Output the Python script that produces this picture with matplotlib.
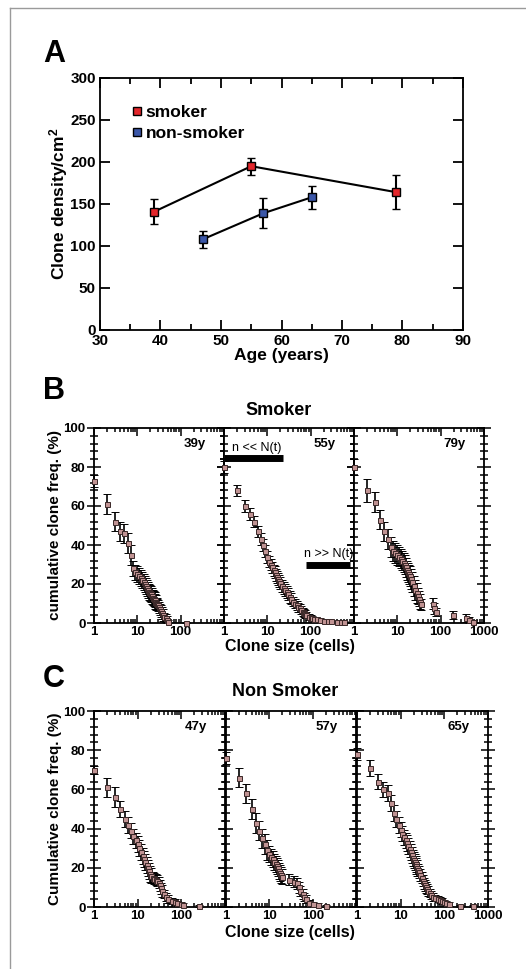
import matplotlib
matplotlib.use('Agg')
import matplotlib.pyplot as plt
from matplotlib.lines import Line2D
from matplotlib.ticker import MultipleLocator, LogLocator, NullFormatter, FixedLocator

plt.rcParams['font.family'] = ['Liberation Sans', 'DejaVu Sans']
plt.rcParams['font.weight'] = 'bold'
plt.rcParams['mathtext.fontset'] = 'custom'
plt.rcParams['mathtext.rm'] = 'Liberation Sans:bold'
plt.rcParams['mathtext.it'] = 'Liberation Sans:bold'
plt.rcParams['mathtext.bf'] = 'Liberation Sans:bold'

# ---------------- Panel A data ----------------
smoker_age = [39, 55, 79]
smoker_density = [141, 195, 164]
smoker_err = [15, 10, 20]
nonsmoker_age = [47, 57, 65]
nonsmoker_density = [108, 139, 158]
nonsmoker_err = [10, 18, 14]

# ---------------- Panel B (Smoker) ----------------
b_labels = ['39y', '55y', '79y']
b1_size = [1,2,3,4,5,6,7,8,9,10,11,12,13,14,15,16,17,18,19,20,21,22,23,24,25,26,27,28,29,30,32,34,36,38,40,42,45,48,52,130]
b1_freq = [73,61,52,47,46,41,35,28,26,25,24,23,22,21,20,19,18,17,16,15.5,15,14,13,12.5,12,11,10.5,10,9.5,9,8,7,6,5,4,3,2.5,1.5,0.5,0]
b1_err = [3,5,5,5,5,5,5,4,4,4,4,4,4,4,4,4,4,4,4,4,4,4,4,4,4,4,4,3,3,3,3,3,3,3,3,2,2,2,1,0.5]

b2_size = [1,2,3,4,5,6,7,8,9,10,11,12,13,14,15,16,17,18,19,20,22,24,26,28,30,33,36,40,44,48,52,56,60,65,70,75,80,90,100,110,120,140,160,200,250,300,400,500,600]
b2_freq = [80,68,60,56,52,47,43,40,37,34,31.5,30,28.5,27,26,24.5,23.5,22.5,21.5,20.5,19,18,17,16,15,13.5,12.5,11,10,9,8,7.5,6.5,5.5,5,4.5,4,3.2,2.8,2.4,2,1.8,1.5,1.2,1,0.8,0.5,0.4,0.3]
b2_err = [3,3,3,3,3,3,3,3,3,3,3,3,3,3,3,3,3,3,3,3,3,3,3,3,3,3,3,2.5,2.5,2.5,2.5,2,2,2,2,2,1.5,1.5,1.5,1,1,1,1,1,0.8,0.8,0.5,0.5,0.5]

b3_size = [1,2,3,4,5,6,7,8,9,10,11,12,13,14,15,16,17,18,19,20,21,22,24,26,28,30,32,34,36,68,72,76,190,380,440,560]
b3_freq = [80,68,62,53,47,43,39,37,36,35,34,33,32,31,30,28.5,27,26,25,24,22.5,21,19,17,15.5,14,12.5,11,9.5,10,7.5,5.5,4,2.5,1.5,0.5]
b3_err = [4,6,5,5,5,5,5,5,5,5,5,5,5,5,5,5,5,5,5,5,5,5,5,5,5,4,4,4,3,3,3,2,2,2,1.5,1]

# ---------------- Panel C (Non Smoker) ----------------
c_labels = ['47y', '57y', '65y']
c1_size = [1,2,3,4,5,6,7,8,9,10,11,12,13,14,15,16,17,18,19,20,22,24,26,28,30,32,34,36,40,45,50,60,70,80,100,110,260]
c1_freq = [70,61,56,50,45,42,39,36,34,32,30,28,26,24.5,23,21.5,20,18.5,17,16,15,14.5,14,13.5,12.5,11,9.5,8,6.5,5,4,3,2.5,2,1.5,1,0.5]
c1_err = [2,5,5,4,4,4,4,4,4,4,4,4,4,4,4,4,4,4,4,4,3,3,3,3,3,3,3,3,2,2,2,1.5,1.5,1,1,1,0.5]

c2_size = [1,2,3,4,5,6,7,8,9,10,11,12,13,14,15,16,17,18,19,20,28,38,44,48,52,58,64,70,83,100,130,200]
c2_freq = [76,66,58,50,43,39,35,32,29,27,25.5,24.5,23,22,21,20,18.5,17.5,16.5,15.5,14,13,12,10,8,6.5,5,4,2,1.5,1,0.3]
c2_err = [3,5,5,5,5,5,5,5,5,4,4,4,4,4,4,4,4,4,4,4,3,3,3,3,2.5,2.5,2,2,1.5,1,1,0.5]

c3_size = [1,2,3,4,5,6,7,8,9,10,11,12,13,14,15,16,17,18,19,20,21,22,23,24,25,26,28,30,32,34,36,38,40,43,46,50,55,60,70,80,90,100,110,125,230,460]
c3_freq = [78,71,64,60,58,53,48,45,42,39.5,37.5,35.5,34,32.5,31,29.5,28,26.5,25,24,23,22,21,20,19,18,16.5,15,13.5,12,11,10,9,8,7,6,5,4.5,4,3.5,3,2.5,2,1.5,0.5,0.3]
c3_err = [3,4,4,4,4,4,4,4,4,4,4,4,4,4,4,4,4,4,4,4,4,4,4,4,3,3,3,3,3,3,3,3,2.5,2.5,2,2,2,1.5,1.5,1.5,1.5,1,1,1,0.5,0.5]

W, H = 526, 969
fig = plt.figure(figsize=(W / 100, H / 100), dpi=100)

def rect(left, top, width, height):
    return [left / W, 1 - (top + height) / H, width / W, height / H]

# page frame lines
fig.add_artist(Line2D([10 / W, 10 / W], [0, 1 - 8 / H], color='#9a9a9a', lw=1.0))
fig.add_artist(Line2D([10 / W, 1], [1 - 8 / H, 1 - 8 / H], color='#9a9a9a', lw=1.0))

SPINE_LW = 1.3

# ---------------- Panel A ----------------
axA = fig.add_axes(rect(100, 78, 363, 252))
axA.errorbar(smoker_age, smoker_density, yerr=smoker_err, fmt='-s', color='black', lw=1.5,
             ms=6, mfc='#e3262b', mec='black', mew=1.0, ecolor='black', elinewidth=1.5,
             capsize=3, capthick=1.5, label='smoker')
axA.errorbar(nonsmoker_age, nonsmoker_density, yerr=nonsmoker_err, fmt='-s', color='black', lw=1.5,
             ms=6, mfc='#3b57a8', mec='black', mew=1.0, ecolor='black', elinewidth=1.5,
             capsize=3, capthick=1.5, label='non-smoker')
axA.set_xlim(30, 90)
axA.set_ylim(0, 300)
axA.xaxis.set_major_locator(MultipleLocator(10))
axA.xaxis.set_minor_locator(MultipleLocator(5))
axA.yaxis.set_major_locator(MultipleLocator(50))
axA.tick_params(which='both', direction='in', top=True, right=True, labelsize=11, width=SPINE_LW)
axA.tick_params(axis='x', pad=3)
axA.tick_params(axis='y', pad=3)
axA.tick_params(which='major', length=7)
axA.tick_params(which='minor', length=4)
for s in axA.spines.values():
    s.set_linewidth(SPINE_LW)
axA.set_xlabel('Age (years)', fontsize=12.5, fontweight='bold', labelpad=0)
axA.set_ylabel('Clone density/cm$^2$', fontsize=12.5, fontweight='bold', labelpad=0)
h = [Line2D([], [], ls='none', marker='s', ms=6, mfc='#e3262b', mec='black', mew=1.0),
     Line2D([], [], ls='none', marker='s', ms=6, mfc='#3b57a8', mec='black', mew=1.0)]
axA.legend(h, ['smoker', 'non-smoker'], loc='upper left', bbox_to_anchor=(0.09, 0.895),
           frameon=False, handlelength=0.5, handletextpad=0.25, labelspacing=0.35,
           borderpad=0, borderaxespad=0, prop={'size': 12.5, 'weight': 'bold'})
fig.text(43 / W, 1 - 54 / H, 'A', fontsize=22, fontweight='bold', va='center', ha='left')

# ---------------- Panels B and C ----------------
def small_panel(ax, size, freq, err, label, first, last):
    lower = [min(e, v) for e, v in zip(err, freq)]
    cont = ax.errorbar(size, freq, yerr=[lower, err], fmt='s', ms=3.6, mfc='#c09393',
                       mec='#3a2828', mew=0.7, ecolor='black', elinewidth=1.2,
                       capsize=2.6, capthick=1.2, zorder=3)
    for art in cont.get_children():
        art.set_clip_on(False)
    ax.set_xscale('log')
    ax.set_xlim(1, 1000)
    ax.set_ylim(0, 100)
    ax.xaxis.set_major_locator(FixedLocator([1, 10, 100, 1000]))
    ax.xaxis.set_minor_locator(LogLocator(base=10, subs=range(2, 10)))
    ax.xaxis.set_minor_formatter(NullFormatter())
    if last:
        ax.set_xticklabels(['1', '10', '100', '1000'])
    else:
        ax.set_xticklabels(['1', '10', '100', ''])
    ax.yaxis.set_major_locator(MultipleLocator(20))
    ax.yaxis.set_minor_locator(MultipleLocator(4))
    ax.tick_params(axis='x', which='both', direction='in', top=True, bottom=True,
                   labelsize=9.5, width=1.1, pad=2)
    ax.tick_params(axis='x', which='major', length=6)
    ax.tick_params(axis='x', which='minor', length=3)
    ax.tick_params(axis='y', which='both', direction='inout', left=True, right=True,
                   labelleft=first, labelsize=9.5, width=1.1, pad=1)
    ax.tick_params(axis='y', which='major', length=10)
    ax.tick_params(axis='y', which='minor', length=6)
    for s in ax.spines.values():
        s.set_linewidth(SPINE_LW)
    ax.text(0.86, 0.92, label, transform=ax.transAxes, fontsize=9.5, fontweight='bold',
            ha='right', va='center')

b_sets = [(b1_size, b1_freq, b1_err), (b2_size, b2_freq, b2_err), (b3_size, b3_freq, b3_err)]
b_left = [94, 224, 354]
b_axes = []
for i, (sz, fr, er) in enumerate(b_sets):
    ax = fig.add_axes(rect(b_left[i], 428, 130, 195))
    small_panel(ax, sz, fr, er, b_labels[i], i == 0, i == 2)
    b_axes.append(ax)
b_axes[0].set_ylabel('cumulative clone freq. (%)', fontsize=11, fontweight='bold', labelpad=1)

# annotation bars in 55y panel
axm = b_axes[1]
axm.plot([1, 23], [84.5, 84.5], color='black', lw=5, solid_capstyle='butt', clip_on=False)
axm.text(1.5, 89.5, 'n << N(t)', fontsize=9, fontweight='normal', ha='left', va='center')
axm.plot([78, 800], [29.7, 29.7], color='black', lw=5, solid_capstyle='butt', clip_on=False)
axm.text(70, 35.5, 'n >> N(t)', fontsize=9, fontweight='normal', ha='left', va='center')

fig.text(279 / W, 1 - 410 / H, 'Smoker', fontsize=13, fontweight='bold', ha='center', va='center')
fig.text(43 / W, 1 - 391 / H, 'B', fontsize=22, fontweight='bold', va='center', ha='left')
fig.text(290 / W, 1 - 647 / H, 'Clone size (cells)', fontsize=11.5, fontweight='bold',
         ha='center', va='center')

c_sets = [(c1_size, c1_freq, c1_err), (c2_size, c2_freq, c2_err), (c3_size, c3_freq, c3_err)]
c_left = [94, 225.5, 357]
c_axes = []
for i, (sz, fr, er) in enumerate(c_sets):
    ax = fig.add_axes(rect(c_left[i], 711, 131, 196))
    small_panel(ax, sz, fr, er, c_labels[i], i == 0, i == 2)
    c_axes.append(ax)
c_axes[0].set_ylabel('Cumulative clone freq. (%)', fontsize=11, fontweight='bold', labelpad=1)

fig.text(285 / W, 1 - 692 / H, 'Non Smoker', fontsize=13, fontweight='bold', ha='center', va='center')
fig.text(43 / W, 1 - 679 / H, 'C', fontsize=22, fontweight='bold', va='center', ha='left')
fig.text(290 / W, 1 - 933 / H, 'Clone size (cells)', fontsize=11.5, fontweight='bold',
         ha='center', va='center')

fig.savefig('out.png', dpi=100)
